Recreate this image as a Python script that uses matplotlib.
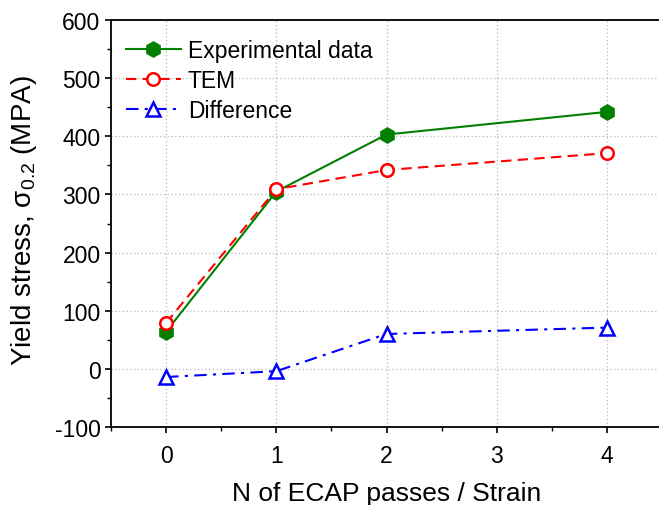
import numpy as np
import matplotlib
matplotlib.use("Agg")
import matplotlib.pyplot as plt
from matplotlib.ticker import MultipleLocator

# Data
passes = [0, 1, 2, 4]
experimental = [64, 305, 403, 442]
tem = [79, 309, 342, 371]
difference = [-14, -4, 60, 71]

plt.rcParams['font.family'] = ['Liberation Sans', 'DejaVu Sans']
plt.rcParams['mathtext.fontset'] = 'custom'
plt.rcParams['mathtext.rm'] = 'Liberation Sans'
plt.rcParams['axes.unicode_minus'] = False

fig = plt.figure(figsize=(6.59, 5.06), dpi=100)
ax = fig.add_axes([111 / 659, 78 / 506, 551 / 659, 407 / 506])

ax.plot(passes, experimental, color='#007f00', linestyle='-', linewidth=1.5,
        marker='h', markersize=11, markerfacecolor='#007f00', markeredgecolor='#007f00',
        label='Experimental data', zorder=3)
ax.plot(passes, tem, color='#ff0000', linestyle=(0, (5, 3)), linewidth=1.5,
        marker='o', markersize=9, markerfacecolor='white', markeredgecolor='#ff0000',
        markeredgewidth=1.8, label='TEM', zorder=4)
ax.plot(passes, difference, color='#0000ff', linestyle=(0, (6, 3, 1.5, 3)), linewidth=1.5,
        marker='^', markersize=10, markerfacecolor='white', markeredgecolor='#0000ff',
        markeredgewidth=1.8, label='Difference', zorder=4)

ax.set_xlim(-0.5, 4.5)
ax.set_ylim(-100, 600)
ax.xaxis.set_major_locator(MultipleLocator(1))
ax.xaxis.set_minor_locator(MultipleLocator(0.5))
ax.yaxis.set_major_locator(MultipleLocator(100))
ax.yaxis.set_minor_locator(MultipleLocator(50))

ax.grid(True, which='major', color='#b8b8b8', linestyle=(0, (1, 2)), linewidth=0.9)
ax.set_axisbelow(True)

for side in ['left', 'bottom', 'top']:
    ax.spines[side].set_linewidth(1.3)
ax.spines['right'].set_visible(False)

ax.tick_params(which='major', direction='out', length=4.5, width=1.2, labelsize=16.5,
               top=False, right=False)
ax.tick_params(which='minor', direction='out', length=3, width=1.0,
               top=False, right=False)
ax.tick_params(axis='x', pad=7.5)
ax.tick_params(axis='y', pad=3)

ax.set_xlabel('N of ECAP passes / Strain', fontsize=19, labelpad=10)
ax.set_ylabel('Yield stress, σ$\\mathregular{_{0.2}}$ (MPA)', fontsize=20, labelpad=8)
ax.yaxis.set_label_coords(-0.13, 0.51)

ax.legend(loc='upper left', frameon=False, fontsize=16.5, handlelength=2.4,
          handletextpad=0.3, labelspacing=0.3, borderaxespad=0.25,
          bbox_to_anchor=(0.0, 0.99))

fig.savefig('out.png', dpi=100)
